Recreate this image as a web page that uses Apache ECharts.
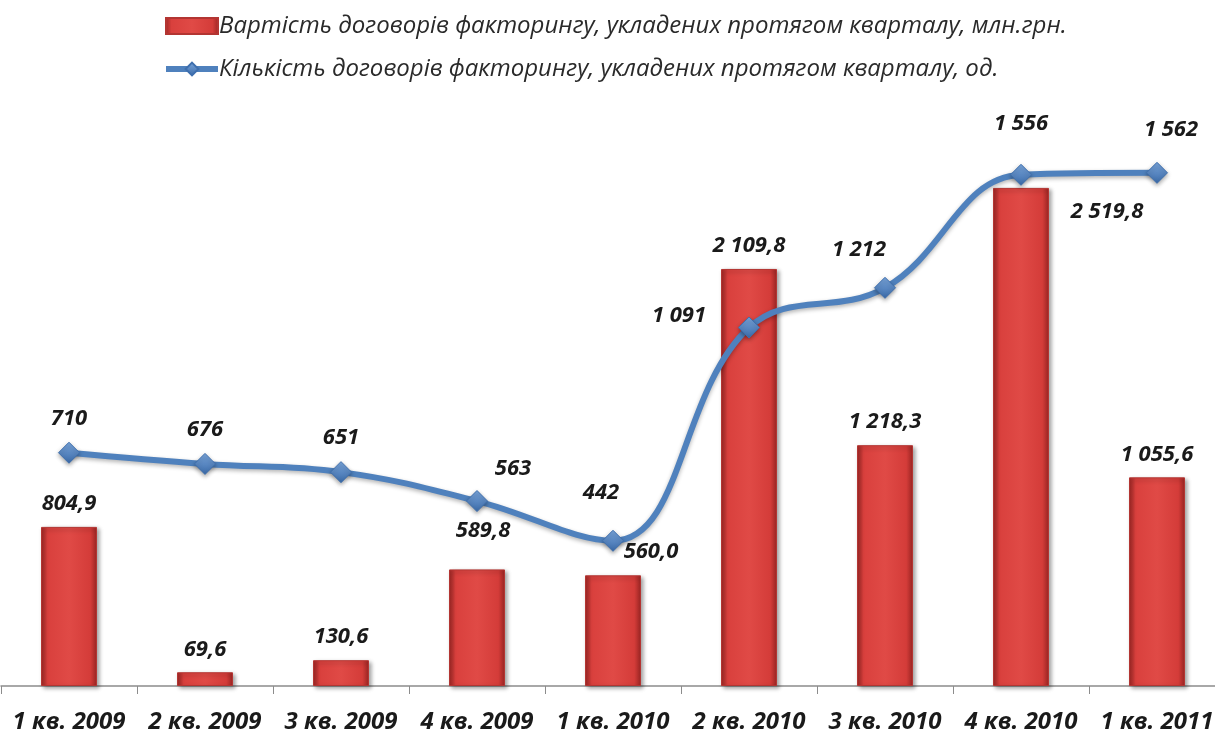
<!DOCTYPE html>
<html>
<head>
<meta charset="utf-8">
<script src="https://cdn.jsdelivr.net/npm/echarts@6/dist/echarts.min.js"></script>
<style>
html,body{margin:0;padding:0;background:#fff;}
#chart{width:1215px;height:737px;}
</style>
</head>
<body>
<div id="chart"></div>
<script>
var categories = ['1 кв. 2009','2 кв. 2009','3 кв. 2009','4 кв. 2009','1 кв. 2010','2 кв. 2010','3 кв. 2010','4 кв. 2010','1 кв. 2011'];
var valueSeries = [804.9, 69.6, 130.6, 589.8, 560.0, 2109.8, 1218.3, 2519.8, 1055.6];
var countSeries = [710, 676, 651, 563, 442, 1091, 1212, 1556, 1562];
var barName = 'Вартість договорів факторингу, укладених протягом кварталу, млн.грн.';
var lineName = 'Кількість договорів факторингу, укладених протягом кварталу, од.';

function fmtNum(v, dec){
  var s = v.toFixed(dec);
  var parts = s.split('.');
  var ip = parts[0].replace(/\B(?=(\d{3})+(?!\d))/g, ' ');
  return dec ? ip + ',' + parts[1] : ip;
}

// label offsets (style)
var barLabelOffsets = [[0,0],[0,0],[0,0],[6,-16],[38,-1],[0,0],[0,0],[86,47],[0,0]];
var lineLabelOffsets = [[0,0],[0,0],[0,0],[36,2],[-12,-14],[-70,22],[-26,-4],[0,-17],[14,-9]];

var font = '"Open Sans", Lato, sans-serif';
var labelStyle = {fontFamily: font, fontStyle:'italic', fontWeight:'bold', fontSize:22, color:'#1a1a1a'};

var barData = valueSeries.map(function(v,i){
  return {value:v, label:{offset:barLabelOffsets[i]}};
});
var lineData = countSeries.map(function(v,i){
  return {value:v, label:{offset:lineLabelOffsets[i]}};
});

var chart = echarts.init(document.getElementById('chart'));
chart.setOption({
  animation:false,
  backgroundColor:'#ffffff',
  legend:{
    orient:'vertical', left:158, top:9, itemGap:19,
    itemWidth:52, itemHeight:16,
    textStyle:{fontFamily:font, fontStyle:'italic', fontSize:24, color:'#2a2a2a', padding:[0,0,0,-4]},
    data:[{name:barName, icon:'rect'}, {name:lineName, lineStyle:{width:6, shadowBlur:0}}]
  },
  grid:{left:1, width:1224, top:93, bottom:51, containLabel:false, outerBoundsMode:'none'},
  xAxis:{
    type:'category', data:categories,
    axisLine:{lineStyle:{color:'#8c8c8c', width:1.5}},
    axisTick:{show:true, length:8, lineStyle:{color:'#8c8c8c'}},
    axisLabel:{interval:0, hideOverlap:false, margin:24, fontFamily:font, fontStyle:'italic', fontWeight:'bold', fontSize:24, color:'#1a1a1a'}
  },
  yAxis:[
    {type:'value', min:0, max:3000, show:false, splitLine:{show:false}},
    {type:'value', min:0, max:1805, show:false, splitLine:{show:false}}
  ],
  series:[
    {
      name:barName, type:'bar', yAxisIndex:0, barWidth:56,
      data:barData,
      itemStyle:{
        color:new echarts.graphic.LinearGradient(0,0,1,0,[
          {offset:0,color:'#9c2624'},{offset:0.12,color:'#d9403d'},
          {offset:0.5,color:'#e04a46'},{offset:0.88,color:'#d43c39'},{offset:1,color:'#9a2523'}
        ]),
        borderColor:'#b33532', borderWidth:1,
        shadowColor:'rgba(0,0,0,0.35)', shadowBlur:4, shadowOffsetX:2, shadowOffsetY:2
      },
      label:Object.assign({show:true, position:'top', distance:12,
        formatter:function(p){return fmtNum(p.value,1);}}, labelStyle)
    },
    {
      name:lineName, type:'line', yAxisIndex:1, smooth:0.4,
      data:lineData,
      symbol:'diamond', symbolSize:[21,21],
      lineStyle:{color:'#4f81bd', width:6, shadowColor:'rgba(0,0,0,0.3)', shadowBlur:4, shadowOffsetY:2},
      itemStyle:{
        color:new echarts.graphic.LinearGradient(0,0,0,1,[{offset:0,color:'#7aa6dc'},{offset:1,color:'#3a6aa8'}]),
        borderColor:'#3e6fae', borderWidth:1,
        shadowColor:'rgba(0,0,0,0.35)', shadowBlur:4, shadowOffsetY:2
      },
      label:Object.assign({show:true, position:'top', distance:12,
        formatter:function(p){return fmtNum(p.value,0);}}, labelStyle),
      z:5
    }
  ]
});
</script>
</body>
</html>
